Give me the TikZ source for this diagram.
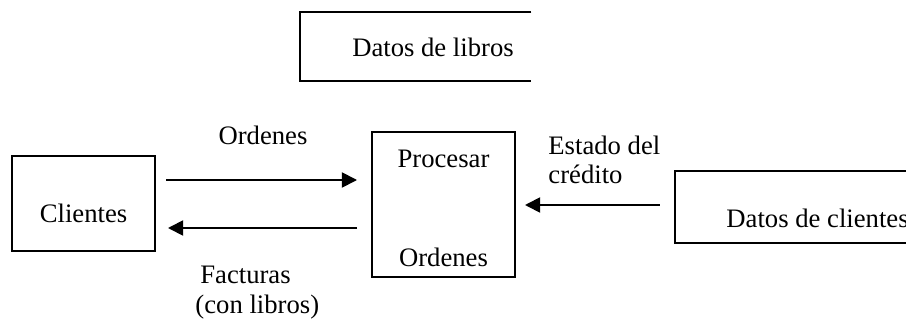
\documentclass[tikz,border=0pt]{standalone}
\usepackage{fontspec}
\setmainfont{Liberation Serif}
\usetikzlibrary{arrows.meta}
\begin{document}
\begin{tikzpicture}[x=0.45pt,y=-0.45pt,
  every node/.style={font=\fontsize{12}{14}\selectfont, inner sep=0pt},
  box/.style={draw, line width=0.9pt, rectangle},
  storebox/.style={rectangle, draw=none},
  storeline/.style={line width=0.9pt},
  flow/.style={line width=0.8pt, -{Triangle[length=6.8pt,width=6.8pt]}}]
\useasboundingbox (0,0) rectangle (906,320);
% processes / entities
\node[box, minimum width=143*0.45pt, minimum height=95*0.45pt] (cli) at (83.5,203.5) {};
\node (clitext) at (83.5,213) {Clientes};
\node[box, minimum width=143*0.45pt, minimum height=145*0.45pt] (proc) at (443.5,204.5) {};
\node (proctop) at (443.5,159) {Procesar};
\node (procbot) at (443.5,257) {Ordenes};
% data stores (open on the right)
\node[storebox, minimum width=231*0.45pt, minimum height=69*0.45pt] (dl) at (415.5,46.5) {};
\draw[storeline] (dl.north east) -- (dl.north west) -- (dl.south west) -- (dl.south east);
\node (dltext) at (433,47) {Datos de libros};
\node[storebox, minimum width=240*0.45pt, minimum height=72*0.45pt] (dc) at (795,207) {};
\draw[storeline] (dc.north east) -- (dc.north west) -- (dc.south west) -- (dc.south east);
\node[anchor=west] (dctext) at (726,218) {Datos de clientes};
% flows
\draw[flow, shorten <=4.5pt, shorten >=6.3pt] (cli.east |- 0,180) -- (proc.west |- 0,180);
\draw[flow, shorten <=6.3pt, shorten >=5.4pt] (proc.west |- 0,228) -- (cli.east |- 0,228);
\draw[flow, shorten <=6.75pt, shorten >=4.05pt] (dc.west |- 0,205) -- (proc.east |- 0,205);
% flow labels
\node (lord) at (263,135) {Ordenes};
\node[anchor=north west, align=left, font=\fontsize{12}{13.5}\selectfont] (lfac) at (195,266) {\hspace*{2.2pt}Facturas\\(con libros)};
\node[anchor=north west, align=left, font=\fontsize{12}{13}\selectfont] (lest) at (548,136) {Estado del\\crédito};
\end{tikzpicture}
\end{document}
